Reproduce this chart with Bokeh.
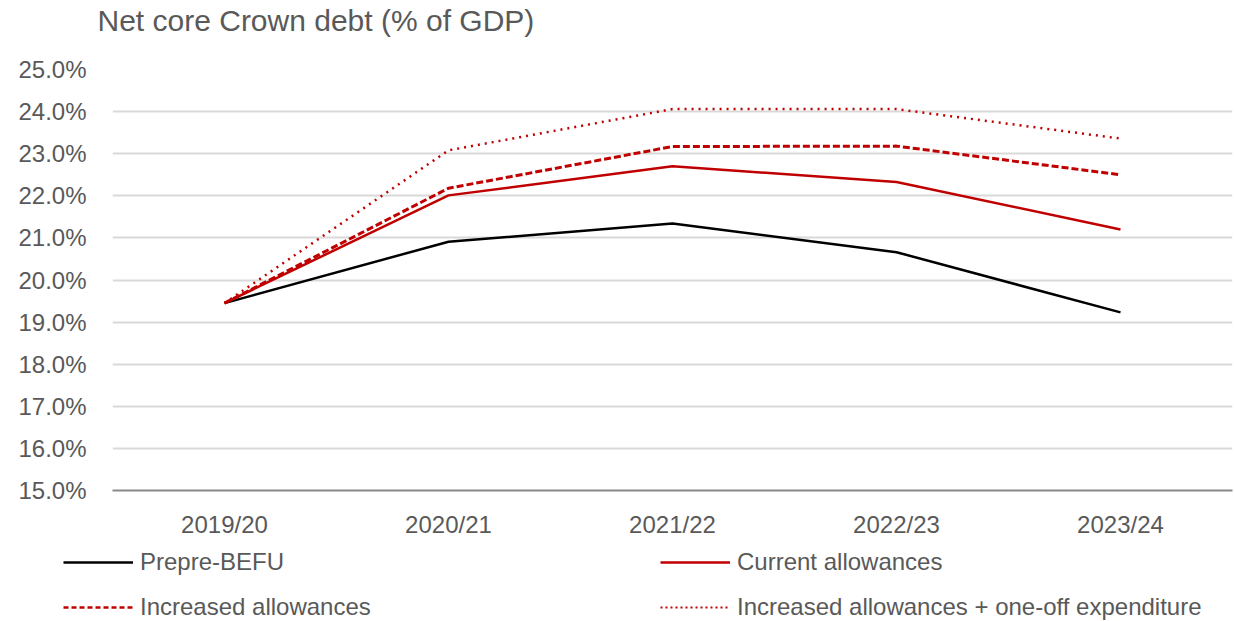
from bokeh.plotting import figure
from bokeh.models import Legend, LegendItem, FixedTicker, CustomJSTickFormatter, Label
from bokeh.embed import file_html
from bokeh.resources import INLINE

years = ["2019/20", "2020/21", "2021/22", "2022/23", "2023/24"]
prepre_befu = [19.45, 20.91, 21.34, 20.66, 19.23]
current_allow = [19.45, 22.01, 22.70, 22.33, 21.20]
increased_allow = [19.45, 22.18, 23.17, 23.18, 22.50]
increased_oneoff = [19.45, 23.08, 24.06, 24.06, 23.36]
y_ticks = [15, 16, 17, 18, 19, 20, 21, 22, 23, 24, 25]
title_text = "Net core Crown debt (% of GDP)"
series_names = ["Prepre-BEFU", "Current allowances", "Increased allowances",
                "Increased allowances + one-off expenditure"]

FONT = "Liberation Sans"
GREY = "#595959"
RED = "#C00000"

# ---- title strip ----
tf = figure(width=1234, height=49, output_backend="svg", toolbar_location=None,
            min_border=0, x_range=(0, 1), y_range=(0, 1),
            x_axis_location=None, y_axis_location=None)
tf.outline_line_color = None
tf.grid.visible = False
tf.add_layout(Label(x=97, y=29, x_units="screen", y_units="screen",
                    text=title_text, text_font=FONT, text_font_size="30px",
                    text_color=GREY, text_baseline="middle", text_align="left"))

# ---- main chart ----
p = figure(width=1234, height=491, x_range=years, y_range=(15, 25),
           output_backend="svg", toolbar_location=None,
           min_border_left=112, min_border_right=2, min_border_top=20,
           min_border_bottom=49)
p.outline_line_color = None
p.background_fill_color = "white"
p.border_fill_color = "white"

p.yaxis.ticker = FixedTicker(ticks=y_ticks)
p.yaxis.formatter = CustomJSTickFormatter(code="return tick.toFixed(1) + '%';")
p.yaxis.axis_line_color = None
p.yaxis.major_tick_line_color = None
p.yaxis.minor_tick_line_color = None
p.yaxis.major_label_text_font = FONT
p.yaxis.major_label_text_font_size = "24px"
p.yaxis.major_label_text_color = GREY
p.yaxis.major_label_standoff = 20

p.xaxis.axis_line_color = "#898989"
p.xaxis.axis_line_width = 2
p.xaxis.major_tick_line_color = None
p.xaxis.minor_tick_line_color = None
p.xaxis.major_label_text_font = FONT
p.xaxis.major_label_text_font_size = "24px"
p.xaxis.major_label_text_color = GREY
p.xaxis.major_label_standoff = 14

p.xgrid.grid_line_color = None
p.ygrid.grid_line_color = "#D9D9D9"
p.ygrid.grid_line_width = 2

styles = [dict(line_color="black", line_width=2.5),
          dict(line_color=RED, line_width=2.5),
          dict(line_color=RED, line_width=3, line_dash="7 3"),
          dict(line_color=RED, line_width=2.5, line_dash="2 5")]
series = [prepre_befu, current_allow, increased_allow, increased_oneoff]
for vals, st in zip(series, styles):
    p.line(years, vals, **st)

# ---- legend strip (series drawn off-range; only the legend shows) ----
lg = figure(width=1234, height=81, output_backend="svg", toolbar_location=None,
            min_border=0, x_range=years, y_range=(0, 1),
            x_axis_location=None, y_axis_location=None)
lg.outline_line_color = None
lg.grid.visible = False
items = []
legend_styles = [dict(line_color="black", line_width=2.5),
                 dict(line_color=RED, line_width=2.5),
                 dict(line_color=RED, line_width=2.5, line_dash="5 3"),
                 dict(line_color=RED, line_width=2, line_dash="2 3")]
for name, vals, st in zip(series_names, series, legend_styles):
    r = lg.line(years, vals, **st)
    items.append(LegendItem(label=name, renderers=[r]))

legend = Legend(items=items, location=(63, 0), orientation="horizontal", ncols=2)
legend.label_text_font = FONT
legend.label_text_font_size = "24px"
legend.label_text_color = GREY
legend.glyph_width = 70
legend.glyph_height = 20
legend.label_standoff = 7
legend.label_width = 503
legend.spacing = 17
legend.padding = 0
legend.margin = 0
legend.border_line_color = None
legend.background_fill_alpha = 0
lg.add_layout(legend, "center")

open("out.html", "w").write(file_html((tf, p, lg), INLINE))
